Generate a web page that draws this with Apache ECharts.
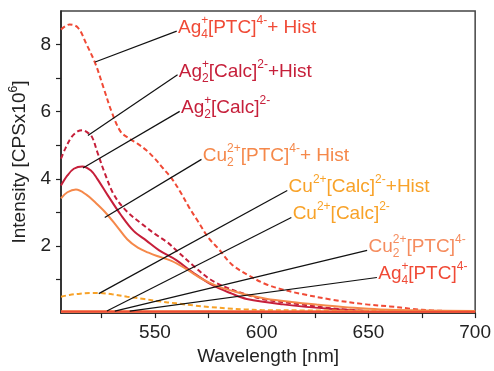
<!DOCTYPE html>
<html>
<head>
<meta charset="utf-8">
<script src="https://cdn.jsdelivr.net/npm/echarts@6/dist/echarts.min.js"></script>
<style>
  html, body { margin: 0; padding: 0; background: #fff; }
  #chart { width: 494px; height: 371px; }
</style>
</head>
<body>
<div id="chart"></div>
<script>
// spectra (wavelength nm -> intensity, CPS x 10^6)
const wlAg4Hist = [506, 510, 514, 518, 522, 526, 530, 534, 538, 542, 546, 550, 554, 558, 562, 566, 570, 575, 580, 586, 594, 602, 610, 618, 633, 649, 660, 670, 680, 690, 700];
const ag4Hist   = [8.45, 8.6, 8.5, 8.0, 7.45, 6.7, 5.95, 5.4, 5.2, 5.04, 4.85, 4.6, 4.3, 4.0, 3.6, 3.15, 2.75, 2.25, 1.9, 1.45, 1.12, 0.86, 0.7, 0.58, 0.4, 0.26, 0.2, 0.13, 0.08, 0.06, 0.05];

const wlAg2Hist = [506, 508, 511, 514, 516, 518, 520.5, 523, 526.5, 531, 537, 544, 550, 556, 560, 568, 576, 584, 593, 602, 618, 633, 650];
const ag2Hist   = [4.6, 4.9, 5.25, 5.42, 5.45, 5.4, 5.25, 4.8, 4.17, 3.5, 3.02, 2.65, 2.36, 2.1, 1.87, 1.41, 1.0, 0.75, 0.55, 0.4, 0.26, 0.14, 0.06];

const wlAg2 = [506, 509, 512, 516, 520, 523, 528, 534, 540, 546, 552, 560, 568, 577, 586, 593, 610, 633, 650];
const ag2   = [3.8, 4.1, 4.3, 4.37, 4.25, 4.0, 3.5, 2.93, 2.45, 2.16, 1.87, 1.58, 1.2, 0.83, 0.58, 0.42, 0.26, 0.12, 0.06];

const wlCu2Hist = [506, 509, 513, 518, 522, 526.5, 532, 537, 542, 547, 551, 558, 565, 572, 580, 587, 593, 602, 614, 626, 638, 650, 660, 675, 700];
const cu2Hist   = [3.42, 3.6, 3.68, 3.52, 3.3, 3.02, 2.6, 2.2, 1.95, 1.8, 1.7, 1.55, 1.3, 1.02, 0.78, 0.65, 0.55, 0.43, 0.33, 0.25, 0.18, 0.13, 0.1, 0.08, 0.06];

const wlCuHist = [506, 510, 515, 520, 524, 530, 537, 545, 552, 560, 568, 576, 584, 592, 600, 620, 650, 700];
const cuHist   = [0.49, 0.54, 0.58, 0.6, 0.6, 0.56, 0.49, 0.42, 0.35, 0.29, 0.23, 0.18, 0.14, 0.11, 0.09, 0.08, 0.07, 0.06];

const wlFlat  = [506, 550, 600, 650, 700];
const cuCalc  = [0.05, 0.05, 0.05, 0.05, 0.05];
const cu2Ptc  = [0.04, 0.04, 0.05, 0.05, 0.05];
const ag4Ptc  = [0.05, 0.05, 0.04, 0.04, 0.04];

// annotation leaders: point on curve -> start of label
const leaderFrom = [[522, 7.48], [518.6, 5.29], [516.3, 4.32], [526.5, 2.85], [523.7, 0.58], [527.5, 0.06], [531.2, 0.06], [538.2, 0.06]];
const leaderTo   = [[560.2, 8.4], [560.6, 7.1], [561.6, 6.01], [571.8, 4.58], [612, 3.65], [613.9, 2.85], [649.4, 1.87], [654, 1.06]];
const labelTexts = [
  "{t|Ag}{supz|+}{sub|4}{t|[PTC]}{sup|4-}{t|+ Hist}",
  "{t|Ag}{supz|+}{sub|2}{t|[Calc]}{sup|2-}{t|+Hist}",
  "{t|Ag}{supz|+}{sub|2}{t|[Calc]}{sup|2-}",
  "{t|Cu}{subz|2}{sup|2+}{t|[PTC]}{sup|4-}{t|+ Hist}",
  "{t|Cu}{sup|2+}{t|[Calc]}{sup|2-}{t|+Hist}",
  "{t|Cu}{sup|2+}{t|[Calc]}{sup|2-}",
  "{t|Cu}{subz|2}{sup|2+}{t|[PTC]}{sup|4-}",
  "{t|Ag}{supz|+}{sub|4}{t|[PTC]}{sup|4-}"
];

const xTicks = [525, 550, 575, 600, 625, 650, 675, 700];
const xLabels = [550, 600, 650, 700];
const yTicks = [1, 2, 3, 4, 5, 6, 7, 8];
const yLabels = [2, 4, 6, 8];

const FONT = "'Liberation Sans', Arial, sans-serif";
const RED = "#f04a36";
const CRIMSON = "#c61f3a";
const ORANGE = "#f5884a";
const AMBER = "#f8a228";
const SALMON = "#f58c5e";

function pairs(xs, ys) {
  return xs.map((x, i) => [x, ys[i]]);
}

function richFor(color) {
  return {
    t: { fontFamily: FONT, fontSize: 19, color, lineHeight: 26, verticalAlign: "middle" },
    sup: { fontFamily: FONT, fontSize: 12, color, verticalAlign: "top" },
    sub: { fontFamily: FONT, fontSize: 12, color, verticalAlign: "bottom" },
    supz: { fontFamily: FONT, fontSize: 12, color, verticalAlign: "top", width: 0 },
    subz: { fontFamily: FONT, fontSize: 12, color, verticalAlign: "bottom", width: 0 },
  };
}

function annotated(idx, color) {
  return {
    markLine: {
      silent: true,
      symbol: ["none", "none"],
      lineStyle: { color: "#111", width: 1.2, type: "solid" },
      label: { show: false },
      data: [[{ coord: leaderFrom[idx] }, { coord: leaderTo[idx] }]],
    },
    markPoint: {
      silent: true,
      symbolSize: 1,
      itemStyle: { color: "rgba(0,0,0,0)" },
      label: {
        show: true,
        position: "right",
        distance: 1,
        offset: [0, -3],
        formatter: labelTexts[idx],
        rich: richFor(color),
      },
      data: [{ coord: leaderTo[idx] }],
    },
  };
}

function line(name, data, color, dashed, idx) {
  return Object.assign({
    name,
    type: "line",
    data,
    smooth: 0.35,
    symbol: "none",
    lineStyle: { color, width: 2, type: dashed ? [5, 3] : "solid" },
    z: 2,
  }, annotated(idx, color));
}

const chart = echarts.init(document.getElementById("chart"), null, { renderer: "canvas" });

chart.setOption({
  animation: false,
  backgroundColor: "#fff",
  grid: {
    left: 61, right: 17, top: 11, bottom: 49,
    show: true, borderColor: "#444", borderWidth: 1.5, backgroundColor: "transparent",
  },
  xAxis: {
    type: "value",
    min: 506,
    max: 700,
    name: "Wavelength [nm]",
    nameLocation: "middle",
    nameGap: 30,
    nameTextStyle: { fontFamily: FONT, fontSize: 19, color: "#222" },
    axisLine: { lineStyle: { color: "#222", width: 1.5 } },
    axisTick: { show: true, customValues: xTicks, length: 5, lineStyle: { color: "#222", width: 1.2 } },
    axisLabel: { customValues: xLabels, fontFamily: FONT, fontSize: 19, color: "#222", margin: 10 },
    splitLine: { show: false },
  },
  yAxis: {
    type: "value",
    min: 0,
    max: 9,
    name: "{a|Intensity [CPSx10}{s|6}{a|]}",
    nameLocation: "middle",
    nameGap: 28,
    nameRotate: 90,
    nameTextStyle: {
      rich: {
        a: { fontFamily: FONT, fontSize: 19, color: "#222", lineHeight: 24, verticalAlign: "middle" },
        s: { fontFamily: FONT, fontSize: 12, color: "#222", verticalAlign: "top" },
      },
    },
    axisLine: { show: true, lineStyle: { color: "#222", width: 1.5 } },
    axisTick: { show: true, customValues: yTicks, length: 5, lineStyle: { color: "#222", width: 1.2 } },
    axisLabel: { customValues: yLabels, fontFamily: FONT, fontSize: 19, color: "#222", margin: 10 },
    splitLine: { show: false },
  },
  series: [
    line("Ag4[PTC]+Hist", pairs(wlAg4Hist, ag4Hist), RED, true, 0),
    line("Ag2[Calc]+Hist", pairs(wlAg2Hist, ag2Hist), CRIMSON, true, 1),
    line("Ag2[Calc]", pairs(wlAg2, ag2), CRIMSON, false, 2),
    line("Cu2[PTC]+Hist", pairs(wlCu2Hist, cu2Hist), ORANGE, false, 3),
    line("Cu[Calc]+Hist", pairs(wlCuHist, cuHist), AMBER, true, 4),
    line("Cu[Calc]", pairs(wlFlat, cuCalc), AMBER, false, 5),
    line("Cu2[PTC]", pairs(wlFlat, cu2Ptc), SALMON, false, 6),
    line("Ag4[PTC]", pairs(wlFlat, ag4Ptc), RED, false, 7),
  ],
});
</script>
</body>
</html>
